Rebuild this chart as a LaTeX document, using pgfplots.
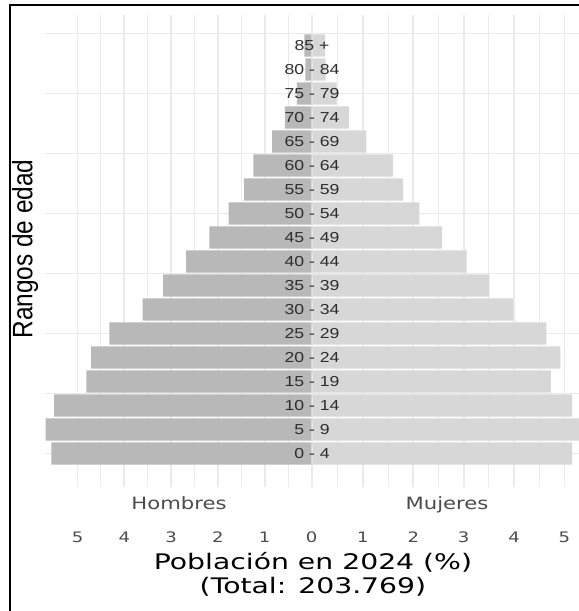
\documentclass[border=0pt]{standalone}
\usepackage{fontspec}
\setmainfont{DejaVu Sans}
\newfontfamily\agefont{Liberation Sans}[FakeStretch=1.22]
\newfontfamily\axfont{DejaVu Sans}[FakeStretch=1.25]
\newfontfamily\ttlfont{DejaVu Sans}[FakeStretch=1.32]
\newfontfamily\yfont{Liberation Sans}
\usepackage{pgfplots}
\pgfplotsset{compat=1.18}

\definecolor{male}{RGB}{184,184,184}
\definecolor{female}{RGB}{215,215,215}
\definecolor{gridc}{RGB}{234,234,234}
\definecolor{agetxt}{RGB}{45,45,45}
\definecolor{ticktxt}{RGB}{75,75,75}

% rows: 0 = 0-4 ... 17 = 85+
\pgfplotstableread{
row men women
0 5.56 5.15
1 5.68 5.35
2 5.50 5.15
3 4.81 4.73
4 4.71 4.92
5 4.32 4.64
6 3.61 3.98
7 3.17 3.51
8 2.68 3.06
9 2.18 2.57
10 1.77 2.12
11 1.44 1.80
12 1.24 1.60
13 0.84 1.07
14 0.57 0.72
15 0.31 0.48
16 0.13 0.26
17 0.15 0.25
}\pyramid

\pgfplotsset{
  pyr/.style={
    scale only axis, height=472bp,
    ymin=-1.396, ymax=18.27,
    xbar, bar width=0.92,
    axis line style={draw=none}, tick style={draw=none},
    xtick={0,...,5}, minor x tick num=1,
    xmajorgrids, xminorgrids, ymajorgrids,
    ytick={0,2.5,...,17.5}, yticklabels={},
    major grid style={gridc, line width=1.7bp},
    minor grid style={gridc, line width=0.9bp},
    xticklabel style={anchor=center, yshift=-50bp,
      font=\axfont\fontsize{14.5}{14.5}\selectfont, text=ticktxt},
  }
}

\begin{document}
\begin{tikzpicture}[agelab/.style={anchor=center, xshift=-0.5bp, text=agetxt,
    font=\agefont\fontsize{14.5}{14.5}\selectfont}]
\path[use as bounding box] (0,0) rectangle (579bp,611bp);

\begin{axis}[pyr, at={(45.5bp,124bp)}, anchor=south west,
  width=266bp, x dir=reverse, xmin=0, xmax=5.684,
  xticklabels={0,1,2,3,4,5}]
  \addplot[fill=male, draw=none] table[x=men, y=row] {\pyramid};
\end{axis}

\begin{axis}[pyr, at={(312.5bp,124bp)}, anchor=south west,
  width=266.5bp, xmin=0, xmax=5.288,
  xticklabels={,1,2,3,4,5}, clip=false]
  \addplot[fill=female, draw=none] table[x=women, y=row] {\pyramid};
  \node[agelab] at (axis cs:0,0) {0 - 4};
  \node[agelab] at (axis cs:0,1) {5 - 9};
  \node[agelab] at (axis cs:0,2) {10 - 14};
  \node[agelab] at (axis cs:0,3) {15 - 19};
  \node[agelab] at (axis cs:0,4) {20 - 24};
  \node[agelab] at (axis cs:0,5) {25 - 29};
  \node[agelab] at (axis cs:0,6) {30 - 34};
  \node[agelab] at (axis cs:0,7) {35 - 39};
  \node[agelab] at (axis cs:0,8) {40 - 44};
  \node[agelab] at (axis cs:0,9) {45 - 49};
  \node[agelab] at (axis cs:0,10) {50 - 54};
  \node[agelab] at (axis cs:0,11) {55 - 59};
  \node[agelab] at (axis cs:0,12) {60 - 64};
  \node[agelab] at (axis cs:0,13) {65 - 69};
  \node[agelab] at (axis cs:0,14) {70 - 74};
  \node[agelab] at (axis cs:0,15) {75 - 79};
  \node[agelab] at (axis cs:0,16) {80 - 84};
  \node[agelab] at (axis cs:0,17) {85 +};
\end{axis}

\node[anchor=base, text=ticktxt, font=\axfont\fontsize{17}{17}\selectfont] at (179bp,101bp) {Hombres};
\node[anchor=base, text=ticktxt, font=\axfont\fontsize{17}{17}\selectfont] at (447bp,101bp) {Mujeres};
\node[anchor=base, font=\ttlfont\fontsize{21.5}{21.5}\selectfont] at (313bp,41bp) {Población en 2024 (\%)};
\node[anchor=base, font=\ttlfont\fontsize{21.5}{21.5}\selectfont] at (313bp,18bp) {(Total: 203.769)};
\node[rotate=90, font=\yfont\fontsize{24.5}{24.5}\selectfont] at (25bp,362bp) {\scalebox{1}[1.15]{Rangos de edad}};

\draw[line width=1.8bp] (10bp,0) -- (10bp,606bp) -- (579bp,606bp);
\end{tikzpicture}
\end{document}
